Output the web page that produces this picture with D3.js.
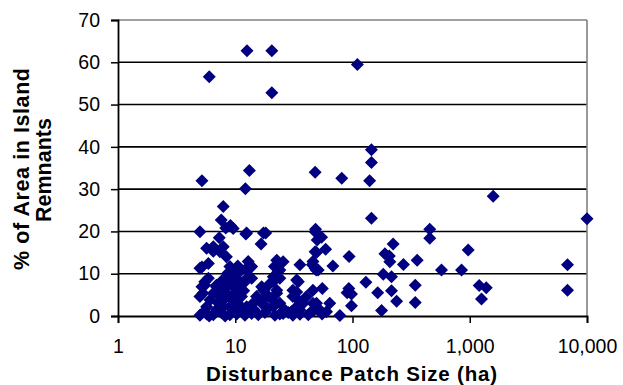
<!DOCTYPE html>
<html>
<head>
<meta charset="utf-8">
<script src="https://cdn.jsdelivr.net/npm/d3@7"></script>
<style>
  body { margin: 0; background: #fff; }
  text { font-family: "Liberation Sans", Arial, sans-serif; }
</style>
</head>
<body>
<div id="chart"></div>
<script>
// patch size (ha) and % of area left in island remnants
const patchSizeHa = [
  6.0, 12.6, 20.5, 20.5, 110, 145, 145, 5.2, 13.2, 12.2, 48, 81, 140, 1585, 10000, 145, 7.9,
  7.6, 9.1, 8.3, 9.6, 5.0, 12.3, 18.2, 48.4, 456, 7.3, 16.6, 50, 54.5, 456, 222,
  5.7, 6.5, 7.9, 8.4, 7.4, 49.3, 59, 93.5, 970, 189, 206, 208, 272, 356, 6820, 12.9, 22.6, 21.6, 46,
  5.2, 5.9, 68, 45.4, 35.6, 13.3, 48, 51, 574, 851, 9.0, 9.6, 11.3, 10.5, 25.6, 24,
  8.4, 10.3, 13.8, 21.1, 24, 34.5, 5.9, 5.5, 5.2, 6.9, 6.5, 183, 215, 130, 55.3, 93, 90, 98, 164, 215,
  343, 1203, 1383, 6820, 16.8, 17.4, 22.6, 9.0, 8.4, 9.6, 33.4, 33.4, 21.1, 31, 7.3,
  7.4, 5.3, 6.1, 5.7, 15.2, 18.6, 14.2, 16.8, 24, 21.1, 31, 34.5, 35.6, 40.5, 38, 7.9, 9.0, 9.9, 8.4,
  11.3, 12.5, 11.0, 238, 343, 1259, 98, 177, 78, 49.3, 52.7, 60, 64, 47, 44.5, 26.5, 30.2, 35.6, 35.6,
  8.2, 6.9, 5.0, 5.7, 6.5, 7.6, 9.0, 10.3, 12.1, 13.8, 15.7, 17.9, 21.8, 24, 28.3, 31, 5.4, 6.0, 8.2,
  9.5, 11.5, 14.5, 19, 55, 42, 10.0, 10.8, 9.3, 10.5, 11.8, 12.0, 10.0, 8.7, 8.0, 7.8, 18.6, 20.5, 19.5,
  23.3, 12.5, 17.4, 5.0, 5.0, 6.5, 48, 48, 46, 46, 49, 32.3, 12.9, 12.5, 25.6, 22.6, 5.5, 13.8, 6.9, 7.1
];
const remnantPct = [
  56.6, 62.7, 62.7, 52.8, 59.5, 39.3, 36.3, 32.0, 34.4, 30.1, 34.0, 32.6, 32.0, 28.3, 23.0, 23.1, 25.9,
  22.7, 21.4, 20.8, 20.7, 19.9, 19.4, 19.6, 20.5, 20.5, 18.5, 17.0, 18.0, 18.6, 18.4, 17.0,
  16.0, 15.3, 16.4, 14.0, 15.2, 15.0, 15.8, 14.1, 15.6, 14.7, 14.2, 12.8, 12.2, 13.2, 12.1, 12.9, 13.2, 11.7, 12.9,
  11.6, 12.4, 11.8, 12.1, 12.1, 11.3, 11.3, 10.9, 10.9, 10.9, 11.7, 10.1, 10.9, 11.8, 12.8, 10.9,
  9.3, 8.9, 8.9, 9.3, 8.9, 8.1, 8.9, 7.3, 6.9, 6.9, 5.4, 9.9, 9.3, 8.0, 6.5, 6.5, 5.5, 5.2, 5.5, 6.0,
  7.3, 7.2, 6.7, 6.1, 6.9, 6.1, 5.4, 8.5, 7.7, 6.9, 5.7, 8.5, 8.1, 6.1, 5.7,
  4.6, 5.4, 3.8, 2.2, 4.6, 4.6, 3.0, 3.0, 3.0, 2.2, 4.6, 3.8, 1.4, 4.6, 3.0, 2.2, 2.2, 3.8, 5.4,
  4.6, 2.2, 2.2, 3.5, 3.2, 4.0, 2.4, 1.3, 0.1, 3.0, 1.4, 1.0, 3.0, 1.4, 1.0, 1.4, 1.0, 0.4, 2.6,
  4.2, 7.3, 0.2, 0.5, 0.3, 0.8, 0.3, 0.5, 0.2, 0.6, 0.3, 0.8, 0.2, 0.5, 0.8, 0.2, 1.0, 0.0, 0.0,
  1.2, 1.0, 1.5, 1.8, 0.5, 0.3, 5.5, 7.0, 4.0, 3.0, 6.0, 8.0, 9.8, 10.2, 6.3, 8.5, 5.0, 3.9, 7.5,
  10.5, 19.6, 19.6, 4.6, 11.3, 16.4, 15.2, 19.9, 6.1, 3.0, 10.9, 1.8, 9.2, 11.3, 0.6, 6.1, 8.1, 11.7, 1.5, 3.2
];

const xTicks = [1, 10, 100, 1000, 10000];
const yTicks = [0, 10, 20, 30, 40, 50, 60, 70];

const W = 623, H = 385;
const plotLeft = 118, plotRight = 587, plotTop = 20, plotBottom = 316;

const svg = d3.select("#chart").append("svg")
  .attr("width", W)
  .attr("height", H);

const x = d3.scaleLog().domain([1, 10000]).range([plotLeft, plotRight]);
const y = d3.scaleLinear().domain([0, 70]).range([plotBottom, plotTop]);

// gridlines (top one is the grey plot border)
svg.append("g")
  .selectAll("line")
  .data(yTicks.filter(d => d > 0))
  .join("line")
  .attr("x1", plotLeft).attr("x2", plotRight)
  .attr("y1", d => y(d)).attr("y2", d => y(d))
  .attr("stroke", d => d === 70 ? "#808080" : "#000")
  .attr("stroke-width", 1.6);

// right border
svg.append("line")
  .attr("x1", plotRight).attr("x2", plotRight)
  .attr("y1", plotTop).attr("y2", plotBottom)
  .attr("stroke", "#808080")
  .attr("stroke-width", 1.6);

// AXES
const yAxis = d3.axisLeft(y).tickValues(yTicks).tickSize(7).tickPadding(11);
const xAxis = d3.axisBottom(x).tickValues(xTicks).tickSize(7).tickPadding(16)
  .tickFormat(d3.format(","));

const gy = svg.append("g")
  .attr("transform", "translate(" + plotLeft + ",0)")
  .call(yAxis);
const gx = svg.append("g")
  .attr("transform", "translate(0," + plotBottom + ")")
  .call(xAxis);

[gx, gy].forEach(g => {
  g.select(".domain").attr("stroke", "#000").attr("stroke-width", 1.8);
  g.selectAll(".tick line").attr("stroke", "#000").attr("stroke-width", 1.5);
  g.selectAll(".tick text")
    .attr("fill", "#000")
    .style("font-size", "19.5px")
    .style("font-family", "'Liberation Sans', Arial, sans-serif");
});

// points
const pts = patchSizeHa.map((d, i) => ({ha: d, pct: remnantPct[i]}));
const s = 6.5;
svg.append("g")
  .selectAll("path")
  .data(pts)
  .join("path")
  .attr("transform", d => "translate(" + x(d.ha) + "," + y(d.pct) + ")")
  .attr("d", "M0," + (-s) + "L" + s + ",0L0," + s + "L" + (-s) + ",0Z")
  .attr("fill", "#000080");

// axis titles
svg.append("text")
  .attr("x", 351.5).attr("y", 381)
  .attr("text-anchor", "middle")
  .attr("font-weight", "bold")
  .attr("font-size", 20.5)
  .attr("textLength", 291)
  .attr("lengthAdjust", "spacing")
  .text("Disturbance Patch Size (ha)");

svg.append("text")
  .attr("transform", "translate(29,169) rotate(-90)")
  .attr("text-anchor", "middle")
  .attr("font-weight", "bold")
  .attr("font-size", 21.5)
  .attr("textLength", 202)
  .attr("lengthAdjust", "spacing")
  .text("% of Area in Island");

svg.append("text")
  .attr("transform", "translate(51,170) rotate(-90)")
  .attr("text-anchor", "middle")
  .attr("font-weight", "bold")
  .attr("font-size", 21.5)
  .attr("textLength", 104)
  .attr("lengthAdjust", "spacing")
  .text("Remnants");
</script>
</body>
</html>
